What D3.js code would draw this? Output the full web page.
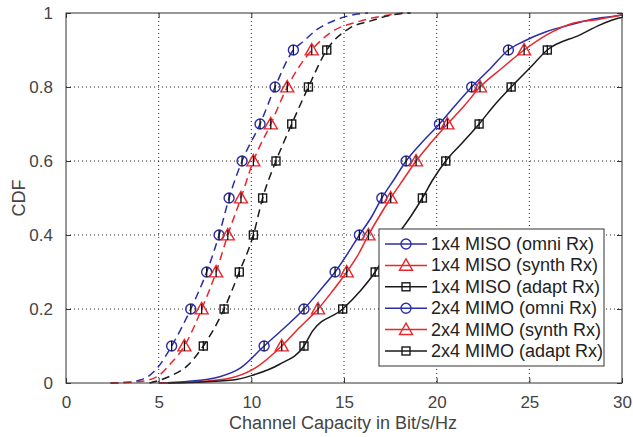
<!DOCTYPE html>
<html><head><meta charset="utf-8">
<script src="https://cdn.jsdelivr.net/npm/d3@7"></script>
<style>html,body{margin:0;padding:0;background:#fff;}svg{display:block;font-family:"Liberation Sans",Arial,sans-serif;}</style>
</head><body>
<svg id="c" width="633" height="437"></svg>
<script>
const xTicks = [0,5,10,15,20,25,30];
const yTicks = [0,0.2,0.4,0.6,0.8,1];
const yTickLabels = ["0","0.2","0.4","0.6","0.8","1"];
const markerLevels = [0.1,0.2,0.3,0.4,0.5,0.6,0.7,0.8,0.9];
const seriesNames = ["1x4 MISO (omni Rx)","1x4 MISO (synth Rx)","1x4 MISO (adapt Rx)","2x4 MIMO (omni Rx)","2x4 MIMO (synth Rx)","2x4 MIMO (adapt Rx)"];
// marker x positions (capacity) at CDF levels 0.1..0.9
const misoOmniMarkers  = [5.70,6.73,7.59,8.26,8.80,9.50,10.47,11.28,12.27];
const misoSynthMarkers = [6.39,7.32,8.10,8.73,9.44,10.11,11.05,11.94,13.26];
const misoAdaptMarkers = [7.41,8.53,9.35,10.11,10.61,11.33,12.18,13.08,14.07];
const mimoOmniMarkers  = [10.69,12.84,14.52,15.83,17.04,18.35,20.15,21.89,23.87];
const mimoSynthMarkers = [11.64,13.60,15.15,16.32,17.52,18.89,20.58,22.34,24.72];
const mimoAdaptMarkers = [12.84,14.93,16.68,17.90,19.23,20.49,22.29,24.02,25.97];
// curve points [capacity, CDF]
const misoOmniCurve = [[2.4,0],[3.5,0.003],[4.0,0.008],[4.5,0.02],[5.0,0.045],[5.7,0.1],[6.73,0.2],[7.59,0.3],[8.26,0.4],[8.80,0.5],[9.50,0.6],[10.47,0.7],[11.28,0.8],[12.27,0.9],[12.8,0.923],[13.53,0.955],[14.6,0.982],[15.7,0.997],[16.3,1]];
const misoSynthCurve = [[2.4,0],[4.0,0.004],[5.0,0.02],[5.6,0.05],[6.39,0.1],[7.32,0.2],[8.10,0.3],[8.73,0.4],[9.44,0.5],[10.11,0.6],[11.05,0.7],[11.94,0.8],[13.26,0.9],[14.25,0.946],[15.87,0.978],[17.1,0.992],[18.2,1]];
const misoAdaptCurve = [[4.5,0],[5.6,0.018],[6.51,0.045],[7.41,0.1],[8.53,0.2],[9.35,0.3],[10.11,0.4],[10.61,0.5],[11.33,0.6],[12.18,0.7],[13.08,0.8],[14.07,0.9],[15.33,0.96],[16.4,0.978],[17.5,0.994],[18.6,1]];
const mimoOmniCurve = [[5.0,0],[6.5,0.004],[8.3,0.017],[9.4,0.04],[10.69,0.1],[11.8,0.15],[12.84,0.2],[13.7,0.25],[14.52,0.3],[15.2,0.35],[15.83,0.4],[16.5,0.45],[17.04,0.5],[17.7,0.55],[18.35,0.6],[19.2,0.65],[20.15,0.7],[21.0,0.75],[21.89,0.8],[22.9,0.85],[23.87,0.9],[24.68,0.923],[25.94,0.95],[27.2,0.968],[28.28,0.982],[29.9,0.994],[30,0.995]];
const mimoSynthCurve = [[5.0,0],[7.0,0.003],[9.0,0.015],[10.2,0.04],[11.64,0.1],[12.6,0.15],[13.6,0.2],[14.4,0.25],[15.15,0.3],[15.8,0.35],[16.32,0.4],[16.9,0.45],[17.52,0.5],[18.2,0.55],[18.89,0.6],[19.7,0.65],[20.58,0.7],[21.5,0.75],[22.34,0.8],[23.5,0.85],[24.72,0.9],[25.94,0.941],[27.4,0.973],[28.64,0.982],[29.9,0.994],[30,0.995]];
const mimoAdaptCurve = [[5.5,0],[7.0,0.002],[9.0,0.008],[10.0,0.02],[11.5,0.05],[12.84,0.1],[13.3,0.14],[14.93,0.2],[15.9,0.25],[16.68,0.3],[17.3,0.35],[17.9,0.4],[18.6,0.45],[19.23,0.5],[19.8,0.55],[20.49,0.6],[21.4,0.65],[22.29,0.7],[23.1,0.75],[24.02,0.8],[25.0,0.85],[25.97,0.9],[27.74,0.941],[28.82,0.968],[29.9,0.987],[30,0.988]];

const seriesMarkers = [misoOmniMarkers,misoSynthMarkers,misoAdaptMarkers,mimoOmniMarkers,mimoSynthMarkers,mimoAdaptMarkers];
const seriesCurves = [misoOmniCurve,misoSynthCurve,misoAdaptCurve,mimoOmniCurve,mimoSynthCurve,mimoAdaptCurve];
const seriesColors = ["#2b2ea6","#e8262b","#1a1a1a","#2b2ea6","#e8262b","#1a1a1a"];
const seriesDashed = [true,true,true,false,false,false];
const seriesShapes = ["circle","triangle","square","circle","triangle","square"];

const svg = d3.select("#c");
const L=66,R=622,T=13,B=383;
const x = d3.scaleLinear().domain([0,30]).range([L,R]);
const y = d3.scaleLinear().domain([0,1]).range([B,T]);
const textCol = "#444";

// grid
const g = svg.append("g");
g.selectAll(".gx").data(xTicks.slice(1,-1)).enter().append("line")
  .attr("x1",d=>x(d)).attr("x2",d=>x(d)).attr("y1",T).attr("y2",B)
  .attr("stroke","#222").attr("stroke-width",1).attr("stroke-dasharray","1,3");
g.selectAll(".gy").data(yTicks.slice(1,-1)).enter().append("line")
  .attr("y1",d=>y(d)).attr("y2",d=>y(d)).attr("x1",L).attr("x2",R)
  .attr("stroke","#222").attr("stroke-width",1).attr("stroke-dasharray","1,3");

// axes
const ax = svg.append("g");
ax.append("g").attr("transform",`translate(0,${B})`)
  .call(d3.axisBottom(x).tickValues(xTicks).tickSizeInner(-5).tickSizeOuter(0).tickPadding(13))
  .call(s=>s.select(".domain").remove());
ax.append("g").attr("transform",`translate(0,${T})`)
  .call(d3.axisTop(x).tickValues(xTicks).tickSizeInner(-5).tickSizeOuter(0).tickFormat(""))
  .call(s=>s.select(".domain").remove());
ax.append("g").attr("transform",`translate(${L},0)`)
  .call(d3.axisLeft(y).tickValues(yTicks).tickSizeInner(-5).tickSizeOuter(0).tickPadding(13).tickFormat((d,i)=>yTickLabels[i]))
  .call(s=>s.select(".domain").remove());
ax.append("g").attr("transform",`translate(${R},0)`)
  .call(d3.axisRight(y).tickValues(yTicks).tickSizeInner(-5).tickSizeOuter(0).tickFormat(""))
  .call(s=>s.select(".domain").remove());
ax.selectAll("line").attr("stroke","#333");
ax.selectAll("text").attr("fill",textCol).style("font-size","17px").style("font-family","'Liberation Sans',Arial,sans-serif");

// lines
const lineGen = d3.line().x(d=>x(d[0])).y(d=>y(d[1])).curve(d3.curveMonotoneX);
const plot = svg.append("g");
seriesCurves.forEach((c,i)=>{
  plot.append("path").attr("d",lineGen(c)).attr("fill","none")
    .attr("stroke",seriesColors[i]).attr("stroke-width",1.5)
    .attr("stroke-dasharray",seriesDashed[i]?"8,5":null);
});

function drawMarker(sel,shape,cx,cy,color){
  if(shape==="circle"){
    sel.append("circle").attr("cx",cx).attr("cy",cy).attr("r",5).attr("fill","none").attr("stroke",color).attr("stroke-width",1.4);
  } else if(shape==="triangle"){
    const s=6.5;
    sel.append("path").attr("d",`M${cx},${cy-s}L${cx+s},${cy+s*0.75}L${cx-s},${cy+s*0.75}Z`).attr("fill","none").attr("stroke",color).attr("stroke-width",1.4);
  } else {
    sel.append("rect").attr("x",cx-4).attr("y",cy-4).attr("width",8).attr("height",8).attr("fill","none").attr("stroke",color).attr("stroke-width",1.4);
  }
}
// markers with small error bar
seriesMarkers.forEach((m,i)=>{
  m.forEach((v,j)=>{
    const cx=x(v), cy=y(markerLevels[j]);
    drawMarker(plot,seriesShapes[i],cx,cy,seriesColors[i]);
    plot.append("line").attr("x1",cx).attr("x2",cx).attr("y1",cy-5).attr("y2",cy+5).attr("stroke","#111").attr("stroke-width",1.3);
  });
});

// frame
svg.append("rect").attr("x",L).attr("y",T).attr("width",R-L).attr("height",B-T).attr("fill","none").attr("stroke","#333").attr("stroke-width",1);

// labels
svg.append("text").attr("x",(L+R)/2 - 1).attr("y",429).attr("text-anchor","middle").attr("fill",textCol).style("font-size","18px").text("Channel Capacity in Bit/s/Hz");
svg.append("text").attr("transform",`translate(25,${(T+B)/2}) rotate(-90)`).attr("text-anchor","middle").attr("fill",textCol).style("font-size","18px").text("CDF");

// legend
const lg = svg.append("g");
lg.append("rect").attr("x",379).attr("y",229).attr("width",225).attr("height",137).attr("fill","#fff").attr("stroke","#333").attr("stroke-width",1);
seriesNames.forEach((n,i)=>{
  const ly = 244 + i*21.4;
  lg.append("line").attr("x1",385).attr("x2",427).attr("y1",ly).attr("y2",ly).attr("stroke",seriesColors[i]).attr("stroke-width",1.5);
  drawMarker(lg,seriesShapes[i],406,ly,seriesColors[i]);
  lg.append("text").attr("x",431).attr("y",ly+6).attr("fill","#222").style("font-size","18px").text(n);
});
</script>
</body></html>
